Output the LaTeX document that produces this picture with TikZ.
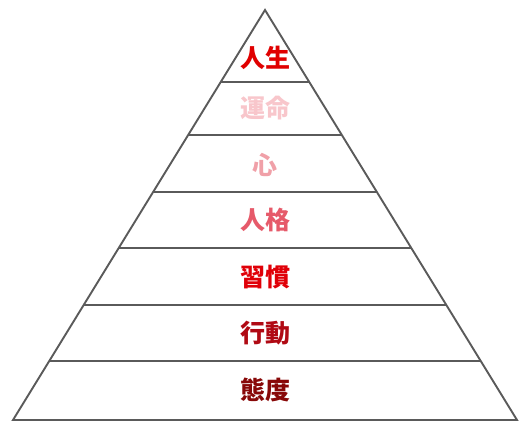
\documentclass[tikz,border=0pt]{standalone}
\usepackage{fontspec}
\newfontfamily\cjk{Noto Sans CJK JP}
\usetikzlibrary{calc}
\definecolor{edgegray}{HTML}{5A5A5A}
\definecolor{cA}{HTML}{E00000}
\definecolor{cB}{HTML}{F8C6CB}
\definecolor{cC}{HTML}{F0A0A8}
\definecolor{cD}{HTML}{E65A6A}
\definecolor{cE}{HTML}{E00008}
\definecolor{cF}{HTML}{B00A14}
\definecolor{cG}{HTML}{880808}
\tikzset{
  edge/.style={draw=edgegray, line width=1.9pt},
  lbl/.style={font=\cjk\bfseries\fontsize{25}{29}\selectfont, inner sep=0pt, anchor=center}
}
\begin{document}
\begin{tikzpicture}[x=1pt,y=-1pt]
\useasboundingbox (0,0) rectangle (531,436);
\coordinate (T) at (265,10);
\coordinate (L) at (13,420);
\coordinate (R) at (517,420);
\draw[edge, line join=miter] (T) -- (L) -- (R) -- cycle;
\foreach \t [count=\i] in {0.1756,0.3049,0.4439,0.5805,0.7195,0.8561}{
  \coordinate (l\i) at ($(T)!\t!(L)$);
  \coordinate (r\i) at ($(T)!\t!(R)$);
  \draw[edge] (l\i) -- (r\i);
}
\node[lbl, text=cA] (n1) at (265,58) {人生};
\node[lbl, text=cB] (n2) at (265,108) {運命};
\node[lbl, text=cC] (n3) at (265,165) {心};
\node[lbl, text=cD] (n4) at (265,220) {人格};
\node[lbl, text=cE] (n5) at (265,277) {習慣};
\node[lbl, text=cF] (n6) at (265,333) {行動};
\node[lbl, text=cG] (n7) at (265,390) {態度};
\end{tikzpicture}
\end{document}
